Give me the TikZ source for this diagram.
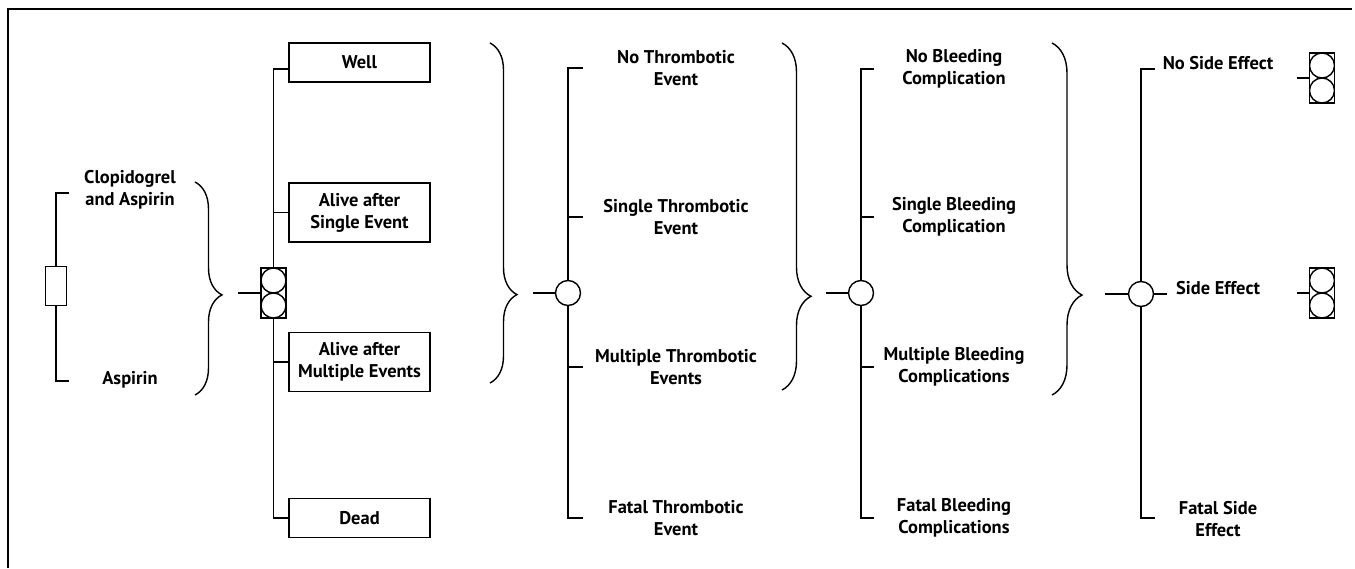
\documentclass[tikz,border=0pt]{standalone}
\usepackage{fontspec}
\setmainfont{PT Sans}
\usetikzlibrary{positioning,decorations.pathreplacing}

\begin{document}
\begin{tikzpicture}[x=.02cm,y=-.02cm,line width=.8pt,
  lbl/.style={align=center,font=\fontsize{10.5}{12.6}\selectfont\bfseries,inner sep=0},
  statebox/.style={draw,lbl,minimum width=2.82cm,minimum height=.78cm},
  decision/.style={draw,minimum width=.42cm,minimum height=.78cm,inner sep=0},
  chance/.style={draw,circle,minimum size=.5cm,inner sep=0},
  markov/.style={draw,minimum width=.5cm,minimum height=1cm,inner sep=0,
    path picture={\draw ([yshift=.25cm]path picture bounding box.center) circle (.25cm)
      ([yshift=-.25cm]path picture bounding box.center) circle (.25cm);}},
  bracket/.style={decorate,decoration={brace,amplitude=#1}}]
\useasboundingbox (0,0) rectangle (1355,568);
\draw (8,568) -- (8,9) -- (1352,9);
% strategies
\node[decision] (d1) at (56,286) {};
\coordinate (t1a) at (69,193);
\coordinate (t1b) at (69,381);
\node[lbl] (s1) at (130,190) {Clopidogrel\\and Aspirin};
\node[lbl] (s2) at (130,380) {Aspirin};
\draw (t1a) -| (d1.north);
\draw (t1b) -| (d1.south);
\coordinate (b1a) at (195,182);
\coordinate (b1b) at (195,395);
\draw[bracket=.54cm,decoration={aspect=.53}] (b1a) -- (b1b);
% markov states
\node[markov] (m1) at (273.5,293) {};
\coordinate (in1) at (238,293);
\draw (in1) -- (m1.west);
\node[statebox] (well) at (359.5,62.5) {Well};
\node[statebox,minimum height=1.18cm] (single) at (359.5,212.5) {Alive after\\Single Event};
\node[statebox,minimum height=1.18cm] (multi) at (359.5,362) {Alive after\\Multiple Events};
\node[statebox] (dead) at (359.5,518) {Dead};
\draw (m1.north) |- ([yshift=-.13cm]well.west);
\draw (m1.north) |- (single.west);
\draw (m1.south) |- (multi.west);
\draw (m1.south) |- (dead.west);
\coordinate (b2a) at (490,43);
\coordinate (b2b) at (490,383);
\draw[bracket=.54cm,decoration={aspect=.74}] (b2a) -- (b2b);
% thrombotic events
\node[chance] (c1) at (568,293) {};
\coordinate (in2) at (533,293);
\draw (in2) -- (c1.west);
\coordinate (t2a) at (583,68);
\coordinate (t2b) at (583,217);
\coordinate (t2c) at (583,367);
\coordinate (t2d) at (583,518);
\draw (c1.north) |- (t2a);
\draw (c1.north) |- (t2b);
\draw (c1.south) |- (t2c);
\draw (c1.south) |- (t2d);
\node[lbl] (e1) at (676,68) {No Thrombotic\\Event};
\node[lbl] (e2) at (676,217) {Single Thrombotic\\Event};
\node[lbl] (e3) at (676,367) {Multiple Thrombotic\\Events};
\node[lbl] (e4) at (676,518) {Fatal Thrombotic\\Event};
\coordinate (b3a) at (782,43);
\coordinate (b3b) at (782,390);
\draw[bracket=.58cm,decoration={aspect=.73}] (b3a) -- (b3b);
% bleeding complications
\node[chance] (c2) at (861,293) {};
\coordinate (in3) at (826,293);
\draw (in3) -- (c2.west);
\coordinate (t3a) at (874,69);
\coordinate (t3b) at (874,217);
\coordinate (t3c) at (874,367);
\coordinate (t3d) at (874,518);
\draw (c2.north) |- (t3a);
\draw (c2.north) |- (t3b);
\draw (c2.south) |- (t3c);
\draw (c2.south) |- (t3d);
\node[lbl] (k1) at (954,69) {No Bleeding\\Complication};
\node[lbl] (k2) at (954,217) {Single Bleeding\\Complication};
\node[lbl] (k3) at (954,367) {Multiple Bleeding\\Complications};
\node[lbl] (k4) at (954,518) {Fatal Bleeding\\Complications};
\coordinate (b4a) at (1052,43);
\coordinate (b4b) at (1052,395);
\draw[bracket=.6cm,decoration={aspect=.716}] (b4a) -- (b4b);
% side effects
\node[chance] (c3) at (1141,294) {};
\coordinate (in4) at (1105,294);
\draw (in4) -- (c3.west);
\coordinate (t4a) at (1155,69);
\coordinate (t4b) at (1167,294);
\coordinate (t4c) at (1155,518);
\draw (c3.north) |- (t4a);
\draw (c3.east) -- (t4b);
\draw (c3.south) |- (t4c);
\node[lbl] (f1) at (1218,63) {No Side Effect};
\node[lbl] (f2) at (1218,288) {Side Effect};
\node[lbl] (f3) at (1218,519) {Fatal Side\\Effect};
\node[markov] (m2) at (1322,78) {};
\node[markov] (m3) at (1322,293) {};
\coordinate (in5) at (1297,78);
\coordinate (in6) at (1297,293);
\draw (in5) -- (m2.west);
\draw (in6) -- (m3.west);
\end{tikzpicture}
\end{document}
